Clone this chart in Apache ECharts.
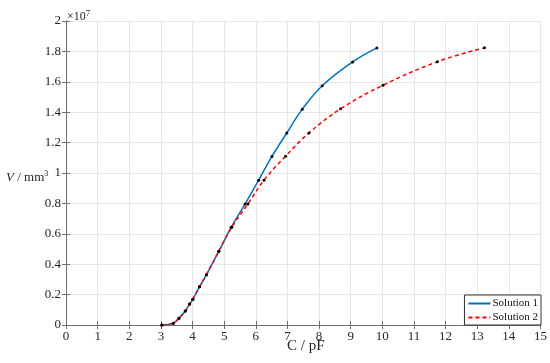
<!DOCTYPE html>
<html>
<head>
<meta charset="utf-8">
<script src="https://cdn.jsdelivr.net/npm/echarts@6/dist/echarts.min.js"></script>
<style>html,body{margin:0;padding:0;background:#fff}#c{width:550px;height:363px}</style>
</head>
<body>
<div id="c"></div>
<script>
// Solution 1 (blue, solid)
var c1 = [3.03, 3.39, 3.57, 3.77, 3.91, 4.01, 4.22, 4.44, 4.83, 5.22, 5.66, 6.09, 6.51, 6.98, 7.47, 8.10, 9.06, 9.83];
var v1 = [0, 0.012, 0.044, 0.092, 0.138, 0.17, 0.251, 0.331, 0.485, 0.643, 0.796, 0.953, 1.109, 1.263, 1.42, 1.574, 1.731, 1.823];
// Solution 2 (red, dashed)
var c2 = [3.03, 3.39, 3.57, 3.77, 3.91, 4.01, 4.22, 4.44, 4.83, 5.24, 5.75, 6.26, 6.94, 7.68, 8.68, 10.02, 11.74, 13.23];
var v2 = [0, 0.012, 0.044, 0.092, 0.138, 0.17, 0.251, 0.331, 0.485, 0.643, 0.796, 0.953, 1.11, 1.263, 1.422, 1.577, 1.732, 1.824];
var xTicks = [0,1,2,3,4,5,6,7,8,9,10,11,12,13,14,15];
var yTicks = [0,0.2,0.4,0.6,0.8,1,1.2,1.4,1.6,1.8,2];
var names = ['Solution 1', 'Solution 2'];

function pairs(xs, ys){ return xs.map(function(x,i){ return [x, ys[i]]; }); }

var font = 'Liberation Serif, Times New Roman, serif';
var chart = echarts.init(document.getElementById('c'));
var axisLine = {show:true, lineStyle:{color:'#707070', width:1}};
var gridLine = {show:true, lineStyle:{color:'#e6e6e6', width:1}};
chart.setOption({
  animation:false,
  grid:{left:66, right:9, top:21, bottom:38, containLabel:false},
  xAxis:[{
    type:'value', min:xTicks[0], max:xTicks[xTicks.length-1], interval:1,
    axisLine:axisLine, axisTick:{show:true, inside:true, length:4, lineStyle:{color:'#707070'}},
    splitLine:gridLine,
    axisLabel:{color:'#262626', fontFamily:font, fontSize:13, margin:5}
  },{
    type:'value', position:'top', min:0, max:15, interval:1,
    axisLine:axisLine, axisTick:{show:true, inside:true, length:4, lineStyle:{color:'#707070'}},
    axisLabel:{show:false}, splitLine:{show:false}
  }],
  yAxis:[{
    type:'value', min:yTicks[0], max:yTicks[yTicks.length-1], interval:0.2,
    axisLine:axisLine, axisTick:{show:true, inside:true, length:4, lineStyle:{color:'#707070'}},
    splitLine:gridLine,
    axisLabel:{color:'#262626', fontFamily:font, fontSize:13, margin:5,
      formatter:function(v){ return String(Math.round(v*10)/10); }}
  },{
    type:'value', position:'right', min:0, max:2, interval:0.2,
    axisLine:axisLine, axisTick:{show:true, inside:true, length:4, lineStyle:{color:'#707070'}},
    axisLabel:{show:false}, splitLine:{show:false}
  }],
  legend:{
    orient:'vertical', right:9, bottom:38, data:names,
    backgroundColor:'#fff', borderColor:'#333', borderWidth:1, borderRadius:0,
    padding:[3,3,2,3], itemGap:3, itemWidth:22, itemHeight:8,
    textStyle:{fontFamily:font, fontSize:11, color:'#111', padding:[0,0,0,-3]},
    itemStyle:{color:'transparent', borderWidth:0}
  },
  series:[{
    name:names[0], type:'line', data:pairs(c1,v1), smooth:0.4,
    symbol:'circle', symbolSize:3, itemStyle:{color:'#000'},
    lineStyle:{color:'#0072BD', width:1.5}, z:2
  },{
    name:names[1], type:'line', data:pairs(c2,v2), smooth:0.4,
    symbol:'circle', symbolSize:3, itemStyle:{color:'#000'},
    lineStyle:{color:'#FF0000', width:1.5, type:[4,3]}, z:3
  }],
  graphic:[{
    type:'text', left:67, top:9,
    style:{text:'×10{s|7}', font:'12px '+font, fill:'#262626',
      rich:{s:{fontSize:9, verticalAlign:'top', padding:[0,0,6,0], fontFamily:font}}}
  },{
    type:'text', left:6, top:170,
    style:{text:'{i|V} / mm{s|3}', font:'13px '+font, fill:'#262626',
      rich:{i:{fontStyle:'italic', fontSize:13, fontFamily:font}, s:{fontSize:8, padding:[0,0,7,0], fontFamily:font}}}
  },{
    type:'text', left:287, top:339,
    style:{text:'C / pF', font:'15px '+font, fill:'#262626'}
  }]
});
</script>
</body>
</html>
